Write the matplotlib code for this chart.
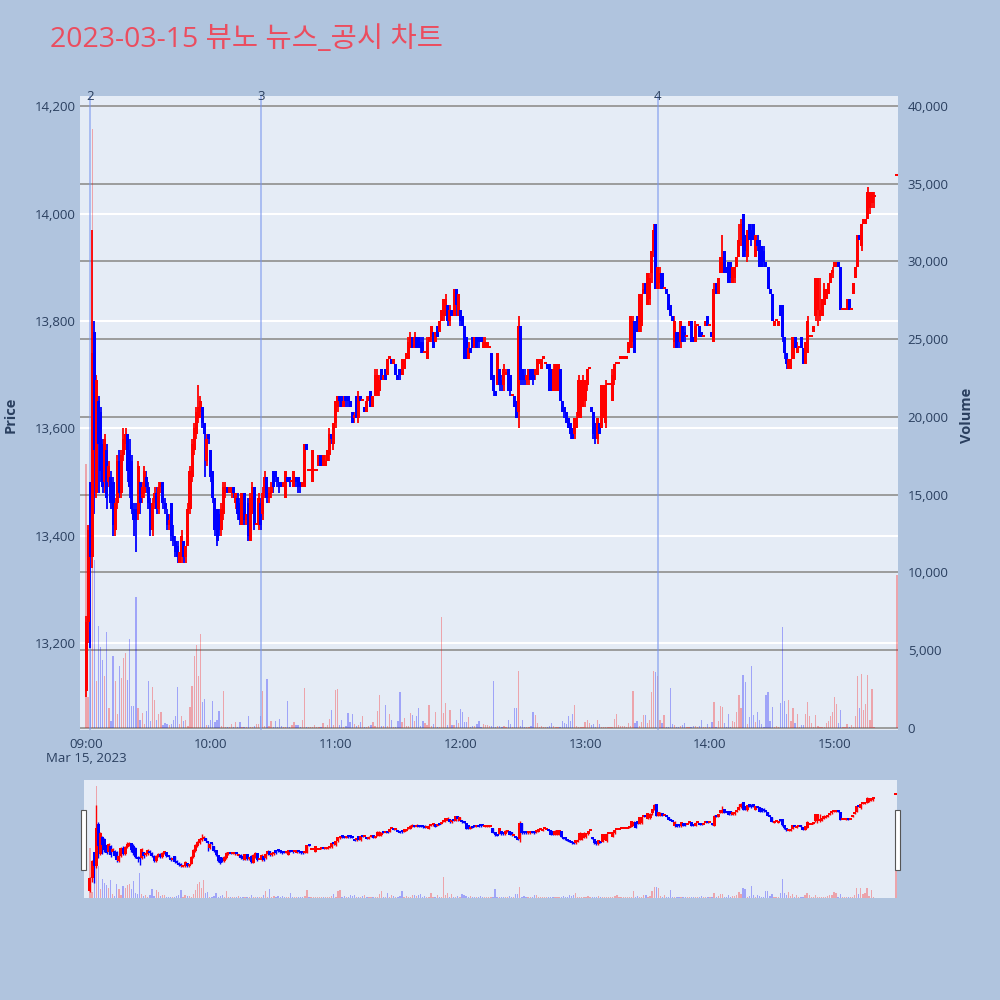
import numpy as np
import matplotlib
matplotlib.use('Agg')
import matplotlib.pyplot as plt
from matplotlib.patches import Rectangle
from matplotlib.transforms import blended_transform_factory

plt.rcParams['font.family'] = ['Open Sans', 'Noto Sans CJK KR', 'DejaVu Sans']

TITLE = "2023-03-15 뷰노 뉴스_공시 차트"
DAY_LABEL = "Mar 15, 2023"

# one-minute bars 09:00 .. 15:19, then the 15:30 closing auction
opens = [
    13110, 13240, 13500, 13360, 13780, 13480, 13650, 13630, 13570, 13500,
    13560, 13500, 13510, 13500, 13410, 13460, 13540, 13480, 13550, 13570,
    13590, 13560, 13540, 13450, 13450, 13440, 13500, 13470, 13480, 13510,
    13490, 13460, 13410, 13460, 13480, 13450, 13490, 13500, 13460, 13440,
    13420, 13460, 13400, 13390, 13380, 13350, 13360, 13390, 13360, 13380,
    13450, 13510, 13560, 13590, 13620, 13630, 13640, 13610, 13540, 13590,
    13560, 13520, 13470, 13450, 13440, 13410, 13440, 13480, 13490, 13480,
    13480, 13490, 13460, 13470, 13460, 13420, 13480, 13430, 13460, 13390,
    13440, 13490, 13420, 13420, 13460, 13440, 13480, 13510, 13470, 13480,
    13520, 13520, 13510, 13500, 13500, 13490, 13470, 13510, 13510, 13500,
    13490, 13510, 13510, 13500, 13490, 13490, 13570, 13520, 13520, 13500,
    13520, 13520, 13530, 13550, 13530, 13530, 13540, 13550, 13590, 13570,
    13610, 13640, 13660, 13660, 13640, 13660, 13660, 13650, 13630, 13620,
    13660, 13620, 13660, 13650, 13640, 13630, 13650, 13670, 13640, 13660,
    13660, 13670, 13710, 13690, 13710, 13700, 13730, 13730, 13720, 13720,
    13700, 13710, 13700, 13710, 13730, 13730, 13750, 13770, 13750, 13770,
    13770, 13760, 13760, 13740, 13730, 13760, 13770, 13780, 13760, 13790,
    13780, 13800, 13810, 13810, 13830, 13800, 13820, 13810, 13860, 13810,
    13820, 13810, 13790, 13770, 13730, 13750, 13770, 13750, 13770, 13770,
    13770, 13750, 13750, 13750, 13750, 13740, 13700, 13670, 13680, 13710,
    13690, 13680, 13700, 13710, 13700, 13660, 13660, 13650, 13630, 13790,
    13710, 13700, 13690, 13690, 13710, 13710, 13700, 13700, 13720, 13710,
    13730, 13720, 13720, 13720, 13710, 13670, 13670, 13670, 13710, 13650,
    13640, 13630, 13620, 13610, 13600, 13590, 13600, 13620, 13620, 13640,
    13650, 13680, 13710, 13640, 13630, 13610, 13580, 13610, 13600, 13620,
    13610, 13680, 13680, 13650, 13690, 13720, 13720, 13730, 13730, 13730,
    13730, 13740, 13750, 13760, 13800, 13810, 13780, 13790, 13850, 13870,
    13830, 13840, 13890, 13930, 13980, 13860, 13870, 13890, 13860, 13860,
    13850, 13830, 13810, 13760, 13780, 13780, 13760, 13790, 13780, 13770,
    13790, 13800, 13770, 13760, 13790, 13790, 13780, 13770, 13790, 13810,
    13790, 13780, 13760, 13870, 13850, 13890, 13890, 13930, 13900, 13910,
    13910, 13870, 13880, 13900, 13920, 13950, 14000, 13960, 13920, 13980,
    13970, 13980, 13920, 13950, 13950, 13940, 13930, 13910, 13900, 13860,
    13850, 13790, 13800, 13790, 13830, 13830, 13770, 13740, 13710, 13710,
    13730, 13770, 13740, 13750, 13770, 13750, 13720, 13740, 13770, 13770,
    13780, 13810, 13820, 13810, 13810, 13830, 13840, 13850, 13870, 13890,
    13900, 13900, 13910, 13900, 13820, 13820, 13820, 13840, 13820, 13850,
    13880, 13900, 13960, 13940, 13980, 13980, 13990, 14010, 14020, 14030,
    14070,
]
highs = [
    13250, 13420, 13500, 13970, 13800, 13700, 13660, 13640, 13580, 13590,
    13570, 13540, 13520, 13510, 13470, 13550, 13560, 13560, 13600, 13600,
    13590, 13580, 13550, 13460, 13460, 13540, 13500, 13500, 13530, 13520,
    13500, 13470, 13470, 13490, 13490, 13500, 13500, 13500, 13470, 13450,
    13440, 13460, 13420, 13400, 13390, 13370, 13410, 13390, 13380, 13460,
    13530, 13580, 13610, 13640, 13680, 13660, 13640, 13610, 13590, 13590,
    13560, 13520, 13470, 13450, 13450, 13460, 13500, 13500, 13490, 13490,
    13490, 13490, 13480, 13480, 13470, 13480, 13480, 13440, 13470, 13480,
    13500, 13490, 13420, 13480, 13470, 13490, 13520, 13510, 13490, 13500,
    13520, 13520, 13510, 13500, 13500, 13500, 13520, 13510, 13510, 13500,
    13520, 13510, 13510, 13500, 13500, 13570, 13570, 13520, 13520, 13560,
    13520, 13520, 13550, 13550, 13550, 13550, 13560, 13600, 13590, 13610,
    13650, 13660, 13660, 13660, 13660, 13660, 13660, 13650, 13630, 13630,
    13660, 13670, 13660, 13650, 13640, 13660, 13660, 13670, 13660, 13710,
    13710, 13700, 13710, 13700, 13710, 13730, 13730, 13730, 13730, 13720,
    13700, 13710, 13730, 13730, 13740, 13770, 13780, 13770, 13780, 13770,
    13770, 13770, 13770, 13740, 13770, 13770, 13790, 13780, 13780, 13790,
    13800, 13820, 13840, 13850, 13830, 13830, 13820, 13860, 13860, 13850,
    13820, 13810, 13790, 13770, 13760, 13750, 13770, 13770, 13770, 13770,
    13770, 13770, 13770, 13760, 13750, 13740, 13700, 13670, 13740, 13710,
    13700, 13720, 13710, 13710, 13700, 13660, 13660, 13650, 13810, 13790,
    13710, 13710, 13700, 13710, 13710, 13710, 13710, 13730, 13730, 13730,
    13730, 13720, 13720, 13720, 13710, 13720, 13720, 13720, 13710, 13650,
    13640, 13630, 13620, 13610, 13600, 13620, 13630, 13700, 13690, 13700,
    13690, 13710, 13710, 13640, 13630, 13610, 13620, 13610, 13680, 13680,
    13690, 13680, 13680, 13710, 13720, 13720, 13720, 13730, 13730, 13730,
    13730, 13760, 13810, 13810, 13800, 13810, 13850, 13850, 13870, 13870,
    13890, 13890, 13930, 13980, 13980, 13900, 13900, 13890, 13860, 13860,
    13850, 13830, 13810, 13810, 13780, 13780, 13800, 13790, 13790, 13770,
    13800, 13800, 13770, 13800, 13790, 13790, 13780, 13770, 13800, 13810,
    13790, 13780, 13870, 13870, 13880, 13920, 13960, 13930, 13900, 13910,
    13910, 13900, 13900, 13920, 13980, 13990, 14000, 13960, 13970, 13980,
    13980, 13980, 13960, 13960, 13950, 13940, 13940, 13910, 13900, 13860,
    13850, 13800, 13800, 13800, 13830, 13830, 13770, 13740, 13730, 13730,
    13770, 13770, 13760, 13750, 13770, 13750, 13760, 13810, 13770, 13770,
    13790, 13880, 13880, 13880, 13840, 13870, 13860, 13870, 13890, 13900,
    13910, 13910, 13910, 13900, 13820, 13820, 13840, 13840, 13820, 13870,
    13900, 13960, 13960, 13980, 13990, 13990, 14050, 14040, 14040, 14040,
    14070,
]
lows = [
    13100, 13200, 13190, 13340, 13440, 13470, 13480, 13500, 13480, 13480,
    13450, 13490, 13450, 13400, 13400, 13450, 13470, 13470, 13540, 13560,
    13500, 13470, 13440, 13400, 13370, 13430, 13440, 13460, 13470, 13480,
    13450, 13400, 13400, 13450, 13440, 13440, 13480, 13450, 13440, 13410,
    13410, 13390, 13380, 13360, 13350, 13350, 13350, 13350, 13350, 13380,
    13440, 13500, 13550, 13580, 13610, 13620, 13600, 13510, 13530, 13570,
    13500, 13460, 13400, 13380, 13400, 13400, 13430, 13470, 13480, 13480,
    13470, 13470, 13450, 13430, 13420, 13420, 13420, 13420, 13390, 13390,
    13440, 13410, 13420, 13410, 13410, 13430, 13470, 13460, 13460, 13470,
    13480, 13500, 13490, 13480, 13490, 13490, 13470, 13500, 13490, 13500,
    13490, 13490, 13480, 13480, 13490, 13490, 13560, 13520, 13520, 13500,
    13520, 13520, 13530, 13530, 13530, 13530, 13540, 13540, 13570, 13560,
    13600, 13630, 13640, 13640, 13640, 13640, 13640, 13640, 13610, 13610,
    13620, 13610, 13650, 13650, 13630, 13630, 13650, 13640, 13640, 13660,
    13660, 13660, 13690, 13690, 13690, 13700, 13730, 13720, 13720, 13700,
    13690, 13690, 13700, 13710, 13730, 13730, 13750, 13750, 13750, 13750,
    13750, 13740, 13740, 13740, 13730, 13760, 13760, 13750, 13760, 13770,
    13780, 13800, 13800, 13810, 13790, 13790, 13810, 13810, 13810, 13810,
    13790, 13790, 13730, 13730, 13730, 13740, 13750, 13750, 13750, 13750,
    13760, 13750, 13750, 13750, 13750, 13690, 13660, 13660, 13680, 13670,
    13670, 13670, 13700, 13670, 13660, 13660, 13640, 13620, 13600, 13680,
    13680, 13680, 13680, 13680, 13690, 13680, 13690, 13700, 13720, 13710,
    13730, 13720, 13710, 13670, 13670, 13670, 13670, 13670, 13650, 13630,
    13620, 13610, 13600, 13580, 13580, 13580, 13600, 13620, 13620, 13640,
    13640, 13670, 13710, 13630, 13580, 13570, 13570, 13590, 13600, 13620,
    13600, 13680, 13680, 13650, 13680, 13720, 13720, 13730, 13730, 13730,
    13730, 13740, 13750, 13750, 13740, 13780, 13780, 13780, 13850, 13850,
    13830, 13830, 13870, 13920, 13860, 13860, 13860, 13860, 13860, 13850,
    13820, 13810, 13800, 13750, 13750, 13750, 13750, 13760, 13760, 13770,
    13790, 13760, 13760, 13760, 13790, 13770, 13770, 13770, 13790, 13790,
    13790, 13770, 13760, 13850, 13850, 13890, 13890, 13890, 13890, 13870,
    13870, 13870, 13870, 13900, 13920, 13940, 13920, 13920, 13910, 13950,
    13940, 13950, 13920, 13930, 13900, 13900, 13900, 13900, 13860, 13850,
    13800, 13790, 13800, 13790, 13810, 13760, 13730, 13710, 13710, 13710,
    13730, 13750, 13740, 13750, 13750, 13720, 13720, 13740, 13770, 13770,
    13780, 13800, 13790, 13800, 13810, 13830, 13840, 13850, 13870, 13880,
    13900, 13900, 13900, 13820, 13820, 13820, 13820, 13820, 13820, 13850,
    13880, 13900, 13950, 13930, 13980, 13980, 13990, 14000, 14010, 14010,
    14070,
]
closes = [
    13240, 13410, 13360, 13740, 13560, 13690, 13570, 13520, 13490, 13580,
    13470, 13530, 13460, 13420, 13460, 13540, 13480, 13550, 13580, 13590,
    13520, 13490, 13450, 13430, 13430, 13530, 13460, 13490, 13520, 13490,
    13460, 13410, 13460, 13480, 13450, 13490, 13500, 13460, 13450, 13420,
    13430, 13400, 13390, 13370, 13360, 13370, 13400, 13360, 13380, 13450,
    13520, 13570, 13600, 13630, 13640, 13650, 13610, 13590, 13580, 13580,
    13510, 13470, 13410, 13390, 13410, 13450, 13490, 13490, 13480, 13490,
    13490, 13480, 13480, 13440, 13430, 13480, 13430, 13440, 13400, 13470,
    13490, 13420, 13420, 13470, 13420, 13480, 13510, 13470, 13480, 13490,
    13490, 13510, 13500, 13490, 13490, 13500, 13520, 13500, 13500, 13500,
    13520, 13500, 13490, 13490, 13500, 13570, 13560, 13520, 13520, 13560,
    13520, 13520, 13550, 13530, 13550, 13540, 13560, 13590, 13580, 13610,
    13650, 13660, 13650, 13640, 13650, 13650, 13650, 13640, 13610, 13620,
    13620, 13660, 13650, 13650, 13630, 13650, 13660, 13640, 13660, 13700,
    13700, 13690, 13690, 13700, 13690, 13730, 13730, 13720, 13730, 13700,
    13690, 13700, 13730, 13730, 13740, 13760, 13770, 13750, 13770, 13750,
    13750, 13750, 13740, 13740, 13760, 13770, 13790, 13750, 13780, 13770,
    13800, 13820, 13840, 13840, 13800, 13820, 13810, 13860, 13830, 13850,
    13800, 13790, 13730, 13730, 13750, 13740, 13750, 13770, 13750, 13760,
    13760, 13760, 13760, 13760, 13750, 13690, 13670, 13660, 13740, 13680,
    13680, 13710, 13700, 13670, 13670, 13660, 13640, 13620, 13790, 13690,
    13690, 13690, 13700, 13710, 13690, 13690, 13710, 13730, 13730, 13730,
    13730, 13720, 13710, 13670, 13670, 13710, 13720, 13720, 13650, 13630,
    13630, 13610, 13600, 13590, 13580, 13620, 13620, 13690, 13690, 13690,
    13690, 13710, 13710, 13630, 13590, 13580, 13620, 13590, 13680, 13680,
    13680, 13680, 13680, 13700, 13720, 13720, 13720, 13730, 13730, 13730,
    13730, 13760, 13810, 13800, 13740, 13780, 13850, 13850, 13860, 13850,
    13890, 13880, 13930, 13970, 13860, 13900, 13890, 13860, 13860, 13850,
    13820, 13810, 13800, 13800, 13750, 13760, 13800, 13760, 13770, 13770,
    13800, 13760, 13760, 13790, 13790, 13770, 13770, 13770, 13800, 13790,
    13790, 13770, 13860, 13850, 13880, 13920, 13920, 13890, 13890, 13870,
    13880, 13900, 13900, 13920, 13950, 13980, 13920, 13930, 13970, 13950,
    13950, 13950, 13960, 13940, 13900, 13900, 13910, 13900, 13860, 13850,
    13800, 13800, 13800, 13800, 13810, 13770, 13740, 13720, 13730, 13730,
    13770, 13750, 13750, 13750, 13750, 13720, 13760, 13800, 13770, 13770,
    13790, 13880, 13880, 13820, 13840, 13860, 13860, 13870, 13890, 13890,
    13910, 13910, 13900, 13820, 13820, 13820, 13840, 13820, 13820, 13870,
    13900, 13960, 13950, 13980, 13990, 13990, 14040, 14040, 14040, 14030,
    14070,
]
volumes = [
    17000, 2000, 6000, 38500, 10800, 3000, 6540, 5200, 4350, 3320,
    6150, 1290, 430, 4650, 3000, 900, 3960, 3210, 4500, 4820,
    3100, 5720, 1435, 1400, 8420, 1290, 540, 960, 280, 1070,
    3000, 430, 2640, 1820, 540, 920, 1000, 210, 320, 280,
    210, 280, 490, 750, 2610, 280, 750, 430, 490, 110,
    1330, 2680, 4650, 5360, 3360, 6070, 1650, 1860, 200, 200,
    540, 1710, 360, 540, 1070, 100, 2360, 50, 50, 50,
    280, 50, 390, 50, 360, 50, 50, 50, 750, 50,
    50, 110, 260, 260, 750, 2360, 100, 3150, 100, 430,
    50, 430, 50, 580, 150, 50, 50, 1710, 50, 210,
    360, 210, 170, 50, 490, 2550, 50, 50, 50, 50,
    170, 50, 50, 50, 320, 50, 210, 600, 1140, 210,
    2460, 2530, 210, 490, 50, 100, 960, 390, 920, 260,
    110, 210, 390, 750, 50, 50, 110, 210, 360, 110,
    1110, 2140, 110, 150, 1500, 110, 900, 540, 50, 50,
    430, 2290, 360, 640, 110, 150, 960, 810, 430, 750,
    1290, 110, 430, 320, 210, 1500, 150, 280, 1000, 50,
    50, 7140, 960, 1600, 210, 1180, 170, 210, 490, 320,
    1220, 1000, 390, 360, 690, 50, 110, 110, 280, 430,
    50, 260, 210, 170, 110, 150, 3040, 50, 150, 110,
    50, 150, 50, 490, 280, 50, 1290, 1290, 3690, 150,
    540, 50, 50, 50, 110, 1000, 860, 320, 50, 150,
    50, 50, 50, 110, 320, 110, 50, 50, 50, 470,
    320, 280, 750, 430, 920, 1460, 110, 50, 50, 50,
    360, 540, 320, 210, 280, 50, 540, 280, 60, 50,
    50, 50, 50, 50, 600, 900, 210, 150, 150, 150,
    60, 320, 150, 2360, 320, 430, 150, 360, 810, 860,
    320, 540, 2290, 3640, 3580, 3360, 540, 320, 810, 50,
    50, 2570, 260, 210, 50, 50, 110, 170, 320, 50,
    50, 50, 150, 150, 50, 110, 490, 50, 50, 280,
    50, 360, 1670, 50, 470, 1390, 1350, 320, 50, 920,
    50, 430, 410, 1050, 2100, 1290, 3400, 2980, 260, 690,
    4000, 860, 360, 1000, 490, 280, 50, 2140, 2340, 470,
    1330, 50, 110, 50, 1600, 6490, 1760, 880, 1800, 430,
    1260, 320, 920, 50, 210, 210, 880, 1690, 790, 320,
    50, 810, 150, 50, 50, 50, 320, 470, 750, 1000,
    2010, 1540, 320, 1160, 50, 50, 280, 50, 190, 50,
    750, 3320, 1260, 3470, 1140, 1520, 3400, 540, 2510, 50,
    9860,
]
# minutes after 09:00
minutes = np.r_[np.arange(380), 390]

# news / disclosure markers
news_labels = ["2", "3", "4"]
news_times = ["09:02", "10:24", "13:35"]

hour_ticks = ["09:00", "10:00", "11:00", "12:00", "13:00", "14:00", "15:00"]
price_ticks = [13200, 13400, 13600, 13800, 14000, 14200]
volume_ticks = [0, 5000, 10000, 15000, 20000, 25000, 30000, 35000, 40000]

FIG_BG = '#B0C4DE'
PLOT_BG = '#E5ECF6'
TXT = '#2a3f5f'
UP = '#FF0000'
DOWN = '#0000FF'
PRICE_LIM = (13038, 14219)
VOL_LIM = (-130, 40640)
X_LIM = (-2.9, 390.5)


def to_min(t):
    h, m = t.split(':')
    return (int(h) - 9) * 60 + int(m)


o = np.array(opens, float)
h = np.array(highs, float)
l = np.array(lows, float)
c = np.array(closes, float)
v = np.array(volumes, float)
up = c >= o
cols = np.where(up, UP, DOWN)
vol_cols = [(1, 0, 0, 0.3) if u else (0, 0, 1, 0.3) for u in up]


def draw(ax_p, ax_v, wick_lw, body_w, min_body):
    ax_v.bar(minutes, v, width=0.6, color=vol_cols, lw=0, zorder=2)
    ax_p.vlines(minutes, l, h, colors=cols, lw=wick_lw, zorder=3)
    body = np.maximum(np.abs(c - o), min_body)
    ax_p.bar(minutes, body, bottom=np.minimum(o, c), width=body_w,
             color=cols, lw=0, zorder=4)
    ax_p.set_xlim(*X_LIM)
    ax_p.set_ylim(*PRICE_LIM)
    ax_v.set_ylim(*VOL_LIM)


fig = plt.figure(figsize=(10, 10), dpi=100, facecolor=FIG_BG)

# ---- main chart
ax = fig.add_axes([0.080, 0.270, 0.818, 0.634])
axv = ax.twinx()
ax.set_zorder(axv.get_zorder() + 1)
ax.patch.set_visible(False)
axv.patch.set_visible(True)
axv.patch.set_facecolor(PLOT_BG)

draw(ax, axv, 1.3, 1.45, 4)

# price grid (white) under the volume grid (gray)
tr = blended_transform_factory(axv.transAxes, ax.transData)
for p in price_ticks:
    axv.plot([0, 1], [p, p], transform=tr, color='white', lw=1.5, zorder=0.3)
axv.set_yticks(volume_ticks)
axv.yaxis.grid(True, color='#9C9C9C', lw=1.4, zorder=0.5)
axv.set_axisbelow(True)

for lab, t in zip(news_labels, news_times):
    m = to_min(t)
    ax.axvline(m, color='#7A96EE', lw=1.2, alpha=0.65, zorder=1)
    ax.text(m, 1.0, lab, transform=blended_transform_factory(ax.transData, ax.transAxes),
            ha='center', va='center', fontsize=9.5, color=TXT)

ax.set_yticks(price_ticks)
ax.set_yticklabels([f"{p:,}" for p in price_ticks])
axv.set_yticklabels([f"{q:,}" for q in volume_ticks])
xt = [to_min(t) for t in hour_ticks]
ax.set_xticks(xt)
ax.set_xticklabels([hour_ticks[0] + "\n" + DAY_LABEL] + hour_ticks[1:],
                   linespacing=1.05)
ax.tick_params(axis='y', length=0, pad=3, labelsize=9.5, labelcolor=TXT)
axv.tick_params(axis='y', length=0, pad=7, labelsize=9.5, labelcolor=TXT)
ax.tick_params(axis='x', length=0, pad=6, labelsize=9.5, labelcolor=TXT)
for a in (ax, axv):
    for s in a.spines.values():
        s.set_visible(False)

fig.text(0.011, 0.585, 'Price', rotation=90, ha='center', va='center',
         fontsize=10.5, fontweight='bold', color=TXT)
fig.text(0.967, 0.585, 'Volume', rotation=90, ha='center', va='center',
         fontsize=10.5, fontweight='bold', color=TXT)
fig.text(0.050, 0.960, TITLE, ha='left', va='center', fontsize=20.5, color='#EB4D5F')

# ---- range slider
axs = fig.add_axes([0.084, 0.102, 0.813, 0.118])
axsv = axs.twinx()
axs.set_zorder(axsv.get_zorder() + 1)
axs.patch.set_visible(False)
axsv.patch.set_visible(True)
axsv.patch.set_facecolor(PLOT_BG)
draw(axs, axsv, 1.0, 1.45, 16)
for a in (axs, axsv):
    a.set_xticks([])
    a.set_yticks([])
    for s in a.spines.values():
        s.set_visible(False)

for x0 in (0.0805, 0.8945):
    fig.patches.append(Rectangle((x0, 0.130), 0.005, 0.060, transform=fig.transFigure,
                                 facecolor='white', edgecolor='#555555', lw=0.8))

fig.savefig('out.png', dpi=100, facecolor=FIG_BG)
